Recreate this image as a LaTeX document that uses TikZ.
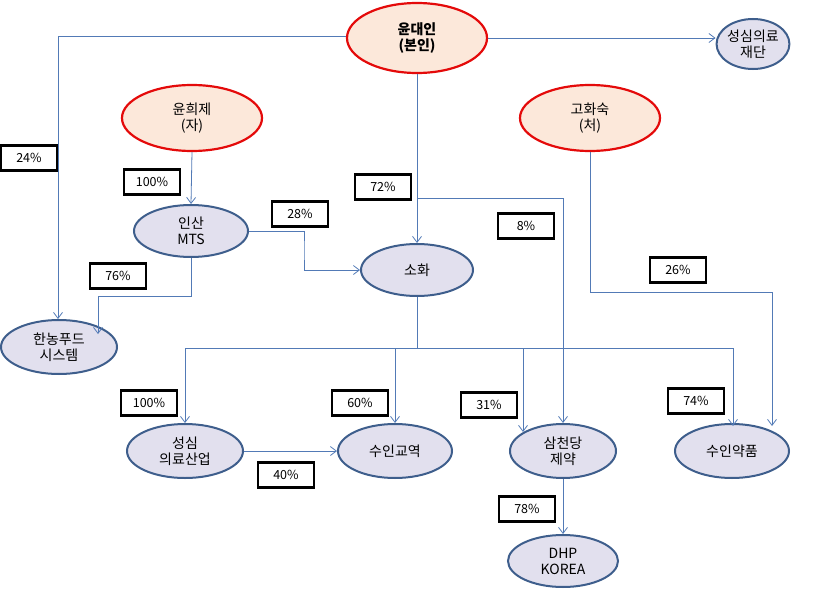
\documentclass[tikz,border=0pt]{standalone}
\usepackage{fontspec}
\setmainfont{Noto Sans CJK KR}
\usetikzlibrary{shapes.geometric,arrows.meta}
\definecolor{redb}{RGB}{228,10,10}
\definecolor{peach}{RGB}{252,232,218}
\definecolor{blueb}{RGB}{62,94,140}
\definecolor{lav}{RGB}{226,224,238}
\definecolor{ln}{RGB}{82,122,182}
\tikzset{
 person/.style={ellipse,draw=redb,line width=2.2pt,fill=peach,inner sep=0pt,align=center,font=\fontsize{14}{16}\selectfont},
 firm/.style={ellipse,draw=blueb,line width=2pt,fill=lav,inner sep=0pt,align=center,font=\fontsize{14}{16}\selectfont},
 pct/.style={draw=black,line width=2.2pt,fill=white,minimum width=56pt,minimum height=25pt,inner sep=0pt,font=\fontsize{12.5}{14}\selectfont},
 con/.style={draw=ln,line width=0.8pt,-{Straight Barb[length=6pt,width=9pt]}}
}
\begin{document}
\begin{tikzpicture}[x=1pt,y=-1pt]
\useasboundingbox (0,0) rectangle (839,589);
\node[person,minimum width=140pt,minimum height=70pt,font=\fontsize{14}{16}\selectfont\bfseries] (yun) at (417,38) {윤대인\\(본인)};
\node[firm,minimum width=66pt,minimum height=50pt] (fd) at (753,44) {성심의료\\재단};
\node[person,minimum width=140pt,minimum height=66pt] (hj) at (192,118) {윤희제\\(자)};
\node[person,minimum width=140pt,minimum height=66pt] (hs) at (590,118) {고화숙\\(처)};
\node[firm,minimum width=114pt,minimum height=52pt] (mts) at (191,231) {인산\\MTS};
\node[firm,minimum width=112pt,minimum height=52pt] (sh) at (417,270) {소화};
\node[firm,minimum width=116pt,minimum height=54pt] (hn) at (59,347) {한농푸드\\시스템};
\node[firm,minimum width=116pt,minimum height=54pt] (ss) at (185,451) {성심\\의료산업};
\node[firm,minimum width=114pt,minimum height=54pt] (sk) at (395,451) {수인교역};
\node[firm,minimum width=106pt,minimum height=54pt] (sc) at (563,451) {삼천당\\제약};
\node[firm,minimum width=114pt,minimum height=54pt] (sy) at (732,451) {수인약품};
\node[firm,minimum width=110pt,minimum height=52pt] (dhp) at (563,561) {DHP\\KOREA};
% connectors
\draw[con] (yun.west |- 0,36) -| (hn.north -| 58,0);
\draw[con] (yun.east |- 0,38) -- (fd.west |- 0,38);
\draw[con] (yun.south) -- (sh.north);
\coordinate (b72) at (417,198);
\draw[con] (b72) -| (sc.north);
\draw[con] (hj.south) -- (mts.north);
\draw[con] (mts.east) -| (304,250) |- (sh.west);
\coordinate (m76) at (191,296);
\draw[con] (mts.south) -- (m76) -| (98,334);
\draw[con] (hs.south) |- (772,292) -- (772,426);
\coordinate (sb) at (417,348);
\draw[draw=ln,line width=0.8pt] (sh.south) -- (sb);
\draw[con] (sb) -| (ss.north);
\draw[con] (sb) -| (sk.north);
\draw[con] (sb) -| (523,432);
\draw[con] (sb) -| (733,426);
\draw[con] (ss.east) -- (sk.west);
\draw[con] (sc.south) -- (dhp.north);
% labels
\node[pct] (p24) at (29,158) {24\%};
\node[pct] (p100a) at (152,182) {100\%};
\node[pct] (p72) at (383,187) {72\%};
\node[pct] (p28) at (300,214) {28\%};
\node[pct] (p8) at (526,226) {8\%};
\node[pct] (p76) at (118,276) {76\%};
\node[pct] (p26) at (678,270) {26\%};
\node[pct] (p100b) at (149,403) {100\%};
\node[pct] (p60) at (360,403) {60\%};
\node[pct] (p31) at (489,405) {31\%};
\node[pct] (p74) at (696,401) {74\%};
\node[pct] (p40) at (286,475) {40\%};
\node[pct] (p78) at (527,509) {78\%};
\end{tikzpicture}
\end{document}
